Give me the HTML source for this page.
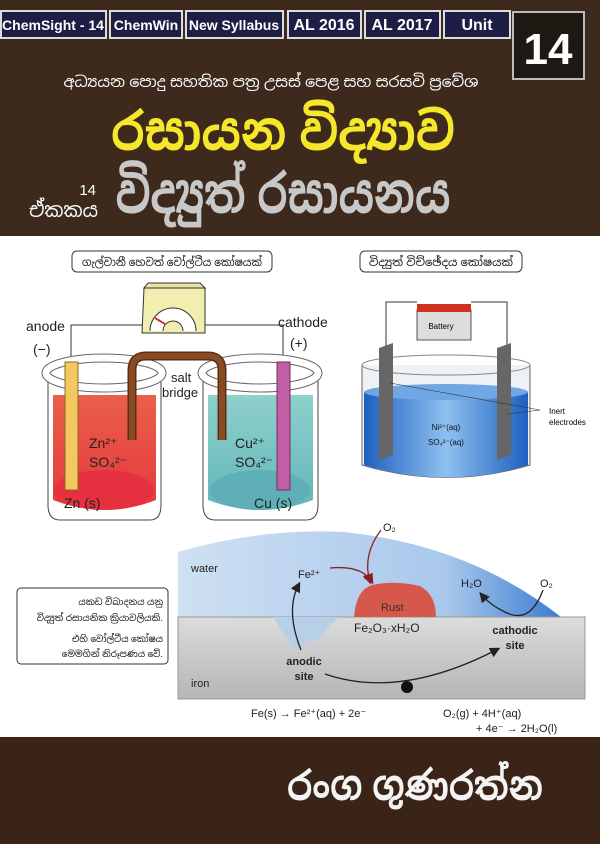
<!DOCTYPE html>
<html><head><meta charset="utf-8"><style>
html,body{margin:0;padding:0;width:600px;height:844px;overflow:hidden;background:#fff}
svg{display:block}
text{font-family:"Liberation Sans","Noto Sans Sinhala","Iskoola Pota",sans-serif}
</style></head><body>
<svg width="600" height="844" viewBox="0 0 600 844" xmlns="http://www.w3.org/2000/svg">
<defs>
<linearGradient id="redL" x1="0" y1="0" x2="0" y2="1"><stop offset="0" stop-color="#e9604a"/><stop offset="1" stop-color="#e5383e"/></linearGradient>
<linearGradient id="tealL" x1="0" y1="0" x2="0" y2="1"><stop offset="0" stop-color="#8fd0cc"/><stop offset="1" stop-color="#62b6b8"/></linearGradient>
<linearGradient id="blueL" x1="0" y1="0" x2="1" y2="0"><stop offset="0" stop-color="#1e60c0"/><stop offset="0.5" stop-color="#8fc0f0"/><stop offset="1" stop-color="#1e60c0"/></linearGradient>
<linearGradient id="water" x1="0" y1="0" x2="1" y2="0"><stop offset="0" stop-color="#cfe0f2"/><stop offset="0.7" stop-color="#a9c8ec"/><stop offset="1" stop-color="#3a7bd0"/></linearGradient>
<linearGradient id="iron" x1="0" y1="0" x2="0" y2="1"><stop offset="0" stop-color="#dcdcdc"/><stop offset="1" stop-color="#b5b5b8"/></linearGradient>
<marker id="ah" markerWidth="8" markerHeight="8" refX="6" refY="4" orient="auto"><path d="M0,0 L8,4 L0,8Z" fill="#222"/></marker>
<marker id="ahr" markerWidth="8" markerHeight="8" refX="6" refY="4" orient="auto"><path d="M0,0 L8,4 L0,8Z" fill="#8a2020"/></marker>
</defs>
<rect x="0" y="0" width="600" height="236" fill="#3d2a1c"/>
<g font-weight="bold" font-size="14" fill="#fff" text-anchor="middle">
<rect x="1" y="11" width="105" height="27" fill="#1d1d45" stroke="#ddd" stroke-width="2"/><text x="53" y="30">ChemSight - 14</text>
<rect x="110" y="11" width="72" height="27" fill="#1d1d45" stroke="#ddd" stroke-width="2"/><text x="146" y="30">ChemWin</text>
<rect x="186" y="11" width="97" height="27" fill="#1d1d45" stroke="#ddd" stroke-width="2"/><text x="234" y="30">New Syllabus</text>
<rect x="288" y="11" width="73" height="27" fill="#1d1d45" stroke="#ddd" stroke-width="2"/><text x="324" y="30" font-size="16">AL 2016</text>
<rect x="365" y="11" width="75" height="27" fill="#1d1d45" stroke="#ddd" stroke-width="2"/><text x="402" y="30" font-size="16">AL 2017</text>
<rect x="444" y="11" width="66" height="27" fill="#1d1d45" stroke="#ddd" stroke-width="2"/><text x="477" y="30" font-size="16">Unit</text>
<rect x="513" y="12" width="71" height="67" fill="#1e1812" stroke="#bbb" stroke-width="2"/><text x="548" y="64" font-size="44">14</text>
</g>
<text x="271" y="87" font-size="15" fill="#fff" text-anchor="middle" textLength="415" lengthAdjust="spacingAndGlyphs">අධ්‍යයන පොදු සහතික පත්‍ර උසස් පෙළ සහ සරසවි ප්‍රවේශ</text>
<text x="283" y="150" font-size="52" font-weight="bold" fill="#f5e72a" text-anchor="middle" textLength="344" lengthAdjust="spacingAndGlyphs">රසායන විද්‍යාව</text>
<text x="96" y="195" font-size="15" fill="#fff" text-anchor="end">14</text>
<text x="29" y="217" font-size="20" fill="#fff" textLength="69" lengthAdjust="spacingAndGlyphs">ඒකකය</text>
<text x="283" y="213" font-size="54" font-weight="bold" fill="#c8c8c8" text-anchor="middle" textLength="335" lengthAdjust="spacingAndGlyphs">විද්‍යුත් රසායනය</text>

<rect x="72" y="251" width="200" height="21" rx="5" fill="#fff" stroke="#333"/>
<text x="172" y="266" font-size="11" text-anchor="middle" fill="#111" textLength="180" lengthAdjust="spacingAndGlyphs">ගැල්වානී හෙවත් වෝල්ටීය කෝෂයක්</text>
<rect x="360" y="251" width="162" height="21" rx="5" fill="#fff" stroke="#333"/>
<text x="441" y="266" font-size="11" text-anchor="middle" fill="#111" textLength="144" lengthAdjust="spacingAndGlyphs">විද්‍යුත් විච්ඡේදය කෝෂයක්</text>

<!-- galvanic -->
<polyline points="71,365 71,325 142,325" fill="none" stroke="#333"/>
<polyline points="205,325 283,325 283,365" fill="none" stroke="#333"/>
<polygon points="144,288 205,288 205,333 142,333" fill="#f2eeb0" stroke="#333"/>
<path d="M148,283 L200,283 L205,288 L144,288Z" fill="#e8e4a0" stroke="#333"/>
<path d="M150,331 A23,23 0 0 1 196,331" fill="#fff" stroke="#333"/>
<path d="M163,331 A10,10 0 0 1 183,331" fill="#f2eeb0" stroke="#333"/>
<line x1="155" y1="318" x2="165" y2="324" stroke="#c33" stroke-width="2"/>
<text x="26" y="331" font-size="14" fill="#222">anode</text>
<text x="33" y="354" font-size="14" fill="#222">(−)</text>
<text x="278" y="327" font-size="14" fill="#222">cathode</text>
<text x="290" y="348" font-size="14" fill="#222">(+)</text>
<path d="M48,378 L48,505 Q48,520 60,520 L150,520 Q161,520 161,505 L161,378" fill="#fff" stroke="#444"/>
<path d="M53,395 L53,500 Q105,520 156,500 L156,395Z" fill="url(#redL)"/>
<ellipse cx="104" cy="490" rx="50" ry="20" fill="#e6303f"/>
<ellipse cx="104" cy="373" rx="58" ry="15" fill="none" stroke="#666" stroke-width="9"/>
<ellipse cx="104" cy="373" rx="58" ry="15" fill="none" stroke="#fff" stroke-width="7"/>
<rect x="65" y="362" width="13" height="128" fill="#f4c860" stroke="#8a6a20"/>
<text x="89" y="448" font-size="14" fill="#222">Zn²⁺</text>
<text x="89" y="467" font-size="14" fill="#222">SO₄²⁻</text>
<text x="64" y="508" font-size="14" fill="#222">Zn (s)</text>
<path d="M203,378 L203,505 Q203,520 215,520 L306,520 Q318,520 318,505 L318,378" fill="#fff" stroke="#444"/>
<path d="M208,395 L208,500 Q260,520 313,500 L313,395Z" fill="url(#tealL)"/>
<ellipse cx="260" cy="490" rx="50" ry="20" fill="#5eb0b6"/>
<ellipse cx="260" cy="373" rx="58" ry="15" fill="none" stroke="#666" stroke-width="9"/>
<ellipse cx="260" cy="373" rx="58" ry="15" fill="none" stroke="#fff" stroke-width="7"/>
<rect x="277" y="362" width="13" height="128" fill="#c25ea6" stroke="#7a2a60"/>
<text x="235" y="448" font-size="14" fill="#222">Cu²⁺</text>
<text x="235" y="467" font-size="14" fill="#222">SO₄²⁻</text>
<text x="254" y="508" font-size="14" fill="#222">Cu (s)</text>
<path d="M132,440 L132,370 Q132,356 146,356 L208,356 Q222,356 222,370 L222,440" fill="none" stroke="#5a2e14" stroke-width="9"/>
<path d="M132,440 L132,370 Q132,356 146,356 L208,356 Q222,356 222,370 L222,440" fill="none" stroke="#8a4a24" stroke-width="6"/>
<text x="171" y="382" font-size="13" fill="#222">salt</text>
<text x="162" y="397" font-size="13" fill="#222">bridge</text>

<!-- electrolysis -->
<polyline points="386,348 386,302 417,302" fill="none" stroke="#333"/>
<polyline points="471,302 507,302 507,348" fill="none" stroke="#333"/>
<rect x="417" y="310" width="54" height="30" fill="#ddd" stroke="#555"/>
<rect x="417" y="304" width="54" height="8" fill="#d03020"/>
<text x="441" y="329" font-size="8" text-anchor="middle" font-family="Liberation Serif">Battery</text>
<path d="M362,365 L362,465 Q446,490 530,465 L530,365" fill="#eef2f6" stroke="#666"/>
<path d="M364,392 L364,465 Q446,490 528,465 L528,392Z" fill="url(#blueL)"/>
<ellipse cx="446" cy="392" rx="82" ry="8" fill="#6fa6e4"/>
<ellipse cx="446" cy="365" rx="84" ry="10" fill="none" stroke="#888"/>
<polygon points="379,348 393,343 393,455 379,460" fill="#666"/>
<polygon points="497,348 511,343 511,455 497,460" fill="#666"/>
<text x="446" y="430" font-size="8" fill="#111" text-anchor="middle" font-family="Liberation Serif">Ni²⁺(aq)</text>
<text x="446" y="445" font-size="8" fill="#111" text-anchor="middle" font-family="Liberation Serif">SO₄²⁻(aq)</text>
<line x1="390" y1="383" x2="540" y2="410" stroke="#333" stroke-width="0.6"/>
<line x1="507" y1="414" x2="540" y2="410" stroke="#333" stroke-width="0.6"/>
<text x="549" y="414" font-size="8" font-family="Liberation Serif">Inert</text>
<text x="549" y="425" font-size="8" font-family="Liberation Serif">electrodes</text>

<!-- corrosion -->
<path d="M178,552 Q260,528 344,532 Q470,545 561,617 L178,617Z" fill="url(#water)"/>
<rect x="178" y="617" width="407" height="82" fill="url(#iron)" stroke="#999"/>
<path d="M274,617 Q285,640 298,650 Q310,638 318,640 Q330,625 339,617Z" fill="#b8cfe8"/>
<path d="M354,617 Q356,590 372,585 Q395,580 420,586 Q436,595 436,617Z" fill="#d6584a"/>
<text x="381" y="611" font-size="11" fill="#333">Rust</text>
<text x="354" y="632" font-size="12" fill="#222">Fe₂O₃·xH₂O</text>
<text x="191" y="572" font-size="11" fill="#222">water</text>
<text x="298" y="578" font-size="11" fill="#222">Fe²⁺</text>
<text x="383" y="531" font-size="11" fill="#222">O₂</text>
<text x="461" y="587" font-size="11" fill="#222">H₂O</text>
<text x="540" y="587" font-size="11" fill="#222">O₂</text>
<text x="191" y="687" font-size="11" fill="#222">iron</text>
<text x="304" y="665" font-size="11" font-weight="bold" fill="#222" text-anchor="middle">anodic</text>
<text x="304" y="680" font-size="11" font-weight="bold" fill="#222" text-anchor="middle">site</text>
<text x="515" y="634" font-size="11" font-weight="bold" fill="#222" text-anchor="middle">cathodic</text>
<text x="515" y="649" font-size="11" font-weight="bold" fill="#222" text-anchor="middle">site</text>
<path d="M301,650 Q285,610 299,584" fill="none" stroke="#222" stroke-width="1.3" marker-end="url(#ah)"/>
<path d="M330,568 Q362,565 372,582" fill="none" stroke="#8a2020" stroke-width="1.3" marker-end="url(#ahr)"/>
<path d="M381,530 Q362,555 370,582" fill="none" stroke="#8a2020" stroke-width="1.3" marker-end="url(#ahr)"/>
<path d="M543,590 Q530,625 505,612 Q490,605 481,594" fill="none" stroke="#222" stroke-width="1.3" marker-end="url(#ah)"/>
<path d="M325,674 Q400,700 498,649" fill="none" stroke="#222" stroke-width="1.3" marker-end="url(#ah)"/>
<circle cx="407" cy="687" r="6" fill="#111"/>
<text x="251" y="717" font-size="11" fill="#222">Fe(s) → Fe²⁺(aq) + 2e⁻</text>
<text x="443" y="717" font-size="11" fill="#222">O₂(g) + 4H⁺(aq)</text>
<text x="476" y="732" font-size="11" fill="#222">+ 4e⁻ → 2H₂O(l)</text>

<rect x="17" y="588" width="151" height="76" rx="4" fill="#fff" stroke="#333"/>
<g font-size="9" fill="#111" text-anchor="end">
<text x="163" y="605">යකඩ විඛාදනය යනු</text>
<text x="163" y="621">විද්‍යුත් රසායනික ක්‍රියාවලියකි.</text>
<text x="163" y="642">එහි වෝල්ටීය කෝෂය</text>
<text x="163" y="657">මෙමගින් නිරූපණය වේ.</text>
</g>

<rect x="0" y="737" width="600" height="107" fill="#3a2418"/>
<text x="287" y="800" font-size="40" font-weight="bold" fill="#f4f4f4" textLength="256" lengthAdjust="spacingAndGlyphs">රංග ගුණරත්න</text>
</svg>
</body></html>
